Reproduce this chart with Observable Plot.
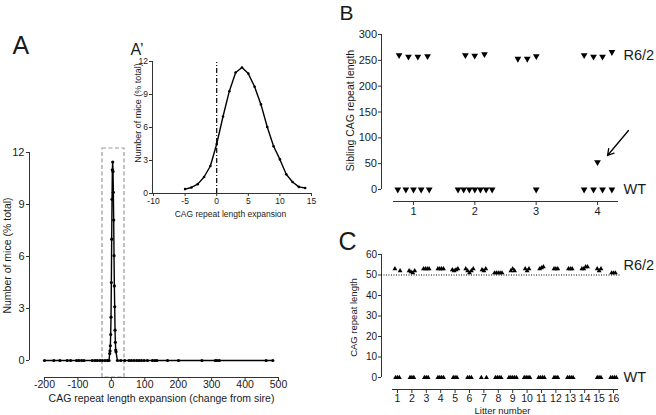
<!DOCTYPE html>
<html><head><meta charset="utf-8">
<script src="https://cdn.jsdelivr.net/npm/d3@7"></script>
<script src="https://cdn.jsdelivr.net/npm/@observablehq/plot@0.6"></script>
<style>
html,body{margin:0;padding:0;background:#fff;}
#fig{position:relative;width:656px;height:415px;overflow:hidden;background:#fff;}
#fig svg{position:absolute;left:0;top:0;}
</style></head><body><div id="fig"></div>
<script>
// ---------- DATA ----------
// Panel A' (inset) and peak of panel A: CAG expansion vs % of mice
const peakExpansion = [-5,-4,-3,-2,-1,0,1,2,3,4,5,6,7,8,9,10,11,12,13,14];
const peakPercent   = [0.4,0.55,0.85,1.5,2.5,4.5,7.0,9.3,11.0,11.45,10.9,9.7,8.1,6.05,4.3,3.1,1.75,1.05,0.6,0.5];
// Panel A tails (rare large changes, ~0 %)
const leftTailExpansion  = [-200,-172,-154,-132,-122,-104,-97,-89,-82,-57,-49,-42,-34,-27,-19,-12,-7];
const leftTailPercent    = [0,0,0,0,0,0,0,0,0,0,0,0,0,0,0,0,0];
const rightTailExpansion = [18,28,40,53,60,68,76,83,90,98,108,123,130,136,168,201,271,311,316,323,463,483];
const rightTailPercent   = [0,0,0,0,0,0,0,0,0,0,0,0,0,0,0,0,0,0,0,0,0,0];
const ticksA = [-200,-100,0,100,200,300,400,500];
const ticksAy = [0,3,6,9,12];
const ticksInsetX = [-10,-5,0,5,10,15];

// Panel B: sibling CAG repeat lengths per litter (x = litter position of each point)
const bLitters = [1,2,3,4];
const bR62X = [0.765,0.918,1.071,1.229, 1.846,1.998,2.157, 2.702,2.855,3.002, 3.782,3.935,4.082,4.235];
const bR62Y = [260,257,257,258, 260,259,262, 253,253,258, 260,257,257,266];
const bWTX  = [0.744,0.875,1.0,1.125,1.256, 1.726,1.818,1.911,2.0,2.091,2.184,2.282, 3.0, 3.782,3.935,4.082,4.235];
const bWTY  = [0,0,0,0,0, 0,0,0,0,0,0,0, 0, 0,0,0,0];
const bOutlierX = [4.0];
const bOutlierY = [53];
const ticksBy = [0,50,100,150,200,250,300];

// Panel C: CAG repeat length per litter
const cLitters = [1,2,3,4,5,6,7,8,9,10,11,12,13,14,15,16];
const cR62 = [[53,52],[52,51.5,51,52],[53,53,53,53],[53,53,53,53],[52.5,52,52.5,53],[53,52,51,52,53],[52.5,52,53],[51,51,51,51,51],
              [52,53,52],[53,52,53],[53,53.5,54],[53,53,53],[53,53,53],[53,53,54,54],[53,52,53],[51,51,51]];
const cWT  = [[0,0,0],[0,0,0],[0,0,0],[0,0,0,0],[0,0,0],[0,0,0],[0,0],[0,0,0,0],
              [0,0,0,0,0],[0,0,0,0],[0,0,0,0],[0,0,0],[0,0,0,0],[],[0,0,0],[0,0,0,0]];
const ticksCy = [0,10,20,30,40,50,60];
const cThreshold = 50;

// ---------- HELPERS ----------
const FONT = "'Liberation Sans', Arial, Helvetica, sans-serif";
const INK = "#1a1a1a";
const AX = "#333";
const fmt = d => String(d);
const inv = (d, r) => px => d[0] + (px - r[0]) * (d[1] - d[0]) / (r[1] - r[0]);
const fig = document.getElementById("fig");
function add(opts) {
  const svg = Plot.plot({width: 656, height: 415,
    style: {background: "transparent", fontFamily: FONT, color: INK, overflow: "visible"}, ...opts});
  fig.appendChild(svg);
}
const txt = (s, o) => Plot.text([s], {text: d => d, fill: INK, ...o});
const triDown = {draw(ctx, size) {
  const y = Math.sqrt(size / (3 * Math.sqrt(3)));
  ctx.moveTo(0, 2 * y); ctx.lineTo(Math.sqrt(3) * y, -y); ctx.lineTo(-Math.sqrt(3) * y, -y); ctx.closePath();
}};

// ---------- PANEL A ----------
{
  const xd = [-200, 500], xr = [44, 278], yd = [0, 12], yr = [360, 152];
  const ix = inv(xd, xr), iy = inv(yd, yr);
  const xs = [...leftTailExpansion, ...peakExpansion, ...rightTailExpansion];
  const ys = [...leftTailPercent, ...peakPercent, ...rightTailPercent];
  const data = xs.map((x, i) => ({x, y: ys[i]}));
  add({
    marginLeft: 29, marginRight: 366, marginTop: 140, marginBottom: 38,
    x: {domain: xd, range: xr}, y: {domain: yd, range: yr},
    marks: [
      Plot.rect([0], {x1: ix(102), x2: ix(124), y1: iy(377), y2: iy(148), fill: "none", stroke: "#9a9a9a", strokeWidth: 1.2, strokeDasharray: "4,2.5"}),
      Plot.ruleX([ix(29)], {y1: 0, y2: 12, stroke: AX}),
      Plot.ruleY([iy(377)], {x1: -200, x2: 500, stroke: AX}),
      Plot.axisY({ticks: ticksAy, tickFormat: fmt, tickSize: 3, tickPadding: 2, fontSize: 11, label: null, stroke: AX}),
      Plot.axisX({ticks: ticksA, tickFormat: fmt, tickSize: 3.5, tickPadding: 0, fontSize: 10.5, label: null, stroke: AX}),
      Plot.line(data, {x: "x", y: "y", stroke: "#000", strokeWidth: 1.4}),
      Plot.dot(data, {x: "x", y: "y", r: 1.6, fill: "#000"}),
      txt("CAG repeat length expansion (change from sire)", {x: ix(161), y: iy(398), fontSize: 10.5}),
      txt("Number of mice (% total)", {x: ix(7), y: iy(255), rotate: -90, fontSize: 10.5}),
      txt("A", {x: ix(12), y: iy(53), textAnchor: "start", lineAnchor: "bottom", fontSize: 25})
    ]
  });
}

// ---------- PANEL A' (inset) ----------
{
  const xd = [-10, 15], xr = [153, 311], yd = [0, 12], yr = [193, 61];
  const ix = inv(xd, xr), iy = inv(yd, yr);
  const data = peakExpansion.map((x, i) => ({x, y: peakPercent[i]}));
  add({
    marginLeft: 152, marginRight: 345, marginTop: 61, marginBottom: 222,
    x: {domain: xd, range: xr}, y: {domain: yd, range: yr},
    marks: [
      Plot.ruleX([ix(152)], {y1: 0, y2: 12, stroke: AX}),
      Plot.ruleY([0], {x1: ix(152), x2: 15, stroke: AX}),
      Plot.ruleX([0], {y1: 0, y2: 11.9, stroke: "#000", strokeWidth: 1.2, strokeDasharray: "5,2,1,2"}),
      Plot.axisY({ticks: ticksAy, tickFormat: fmt, tickSize: 3, tickPadding: 1.5, fontSize: 8.5, label: null, stroke: AX}),
      Plot.axisX({ticks: ticksInsetX, tickFormat: fmt, tickSize: 3, tickPadding: 1, fontSize: 8.5, label: null, stroke: AX}),
      Plot.line(data, {x: "x", y: "y", stroke: "#000", strokeWidth: 1.4}),
      Plot.dot(data, {x: "x", y: "y", r: 1.3, fill: "#000"}),
      txt("CAG repeat length expansion", {x: ix(230), y: iy(214), fontSize: 8.5}),
      txt("Number of mice (% total)", {x: ix(137.5), y: iy(112.5), rotate: -90, fontSize: 9}),
      txt("A\u2019", {x: ix(130), y: iy(54), textAnchor: "start", lineAnchor: "bottom", fontSize: 16})
    ]
  });
}

// ---------- PANEL B ----------
{
  const xd = [1, 4], xr = [413, 597], yd = [0, 300], yr = [189, 34];
  const ix = inv(xd, xr), iy = inv(yd, yr);
  const r62 = bR62X.map((x, i) => ({x, y: bR62Y[i]}));
  const wt = bWTX.map((x, i) => ({x, y: bWTY[i]}));
  const out = bOutlierX.map((x, i) => ({x, y: bOutlierY[i]}));
  add({
    marginLeft: 381, marginRight: 38, marginTop: 34, marginBottom: 214,
    x: {domain: xd, range: xr}, y: {domain: yd, range: yr},
    marks: [
      Plot.ruleX([ix(381)], {y1: 0, y2: 300, stroke: AX}),
      Plot.ruleY([iy(201)], {x1: ix(393), x2: ix(618), stroke: AX}),
      Plot.axisY({ticks: ticksBy, tickFormat: fmt, tickSize: 3, tickPadding: 1.5, fontSize: 11, label: null, stroke: AX}),
      Plot.axisX({ticks: bLitters, tickFormat: fmt, tickSize: 4, tickPadding: 2, fontSize: 11, label: null, stroke: AX}),
      Plot.dot([...r62, ...wt, ...out], {x: "x", y: "y", r: 2.5, symbol: triDown, fill: "#000"}),
      Plot.arrow([0], {x1: ix(628), y1: iy(130), x2: ix(607), y2: iy(155), stroke: "#000", strokeWidth: 1.3, headLength: 8}),
      txt("R6/2", {x: ix(623), y: iy(55), textAnchor: "start", fontSize: 14.5}),
      txt("WT", {x: ix(623), y: iy(189), textAnchor: "start", fontSize: 14.5}),
      txt("Sibling CAG repeat length", {x: ix(350), y: iy(110), rotate: -90, fontSize: 10.5}),
      txt("B", {x: ix(339), y: iy(19.5), textAnchor: "start", lineAnchor: "bottom", fontSize: 21})
    ]
  });
}

// ---------- PANEL C ----------
{
  const xd = [1, 16], xr = [397, 613], yd = [0, 60], yr = [377, 254];
  const ix = inv(xd, xr), iy = inv(yd, yr);
  const spread = (groups) => groups.flatMap((vals, g) => {
    const n = vals.length, step = n === 2 ? 0.36 : 0.13;
    return vals.map((v, i) => ({x: cLitters[g] + (i - (n - 1) / 2) * step, y: v}));
  });
  const pts = [...spread(cR62), ...spread(cWT)];
  add({
    marginLeft: 381, marginRight: 38, marginTop: 254, marginBottom: 26,
    x: {domain: xd, range: xr}, y: {domain: yd, range: yr},
    marks: [
      Plot.ruleX([ix(381)], {y1: 0, y2: 60, stroke: AX}),
      Plot.ruleY([iy(389)], {x1: ix(392), x2: ix(618), stroke: AX}),
      Plot.ruleY([cThreshold], {x1: ix(381), x2: ix(621), stroke: "#000", strokeWidth: 1, strokeDasharray: "1,1.5"}),
      Plot.axisY({ticks: ticksCy, tickFormat: fmt, tickSize: 3, tickPadding: 1.5, fontSize: 10, label: null, stroke: AX}),
      Plot.axisX({ticks: cLitters, tickFormat: fmt, tickSize: 4, tickPadding: 1.5, fontSize: 10.5, label: null, stroke: AX}),
      Plot.dot(pts, {x: "x", y: "y", r: 1.8, symbol: "triangle", fill: "#000"}),
      txt("R6/2", {x: ix(623), y: iy(265), textAnchor: "start", fontSize: 14.5}),
      txt("WT", {x: ix(623), y: iy(377), textAnchor: "start", fontSize: 14.5}),
      txt("Litter number", {x: ix(502), y: iy(410), fontSize: 9.5}),
      txt("CAG repeat length", {x: ix(353), y: iy(317), rotate: -90, fontSize: 9.5}),
      txt("C", {x: ix(338), y: iy(249.5), textAnchor: "start", lineAnchor: "bottom", fontSize: 25})
    ]
  });
}
</script></body></html>
